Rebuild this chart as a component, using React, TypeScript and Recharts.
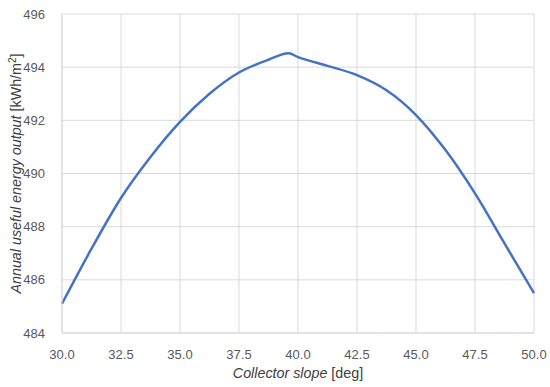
import React from "react";
import { LineChart, Line, XAxis, YAxis, CartesianGrid } from "recharts";

const slopes = [30, 31.25, 32.5, 33.75, 35, 36.25, 37.5, 38.75, 39.6, 40, 41.25, 42.5, 43.75, 45, 46.25, 47.5, 48.75, 50];
const outputs = [485.1, 487.17, 489.08, 490.62, 491.94, 493.0, 493.8, 494.28, 494.52, 494.38, 494.05, 493.7, 493.13, 492.2, 490.88, 489.25, 487.37, 485.5];
const xTicks = [30, 32.5, 35, 37.5, 40, 42.5, 45, 47.5, 50];
const yTicks = [484, 486, 488, 490, 492, 494, 496];

const data = slopes.map((s, i) => ({ slope: s, value: outputs[i] }));

const FONT = "'Liberation Sans', Arial, sans-serif";

const XTitle = (props: any) => {
  const vb = props.viewBox || {};
  const cx = vb.x + vb.width / 2;
  const y = vb.y + 45;
  return (
    <text x={cx} y={y} textAnchor="middle" fill="#404040" fontSize={14.3} fontFamily={FONT}>
      <tspan fontStyle="italic">Collector slope</tspan>
      <tspan> [deg]</tspan>
    </text>
  );
};

const YTitle = (props: any) => {
  const vb = props.viewBox || {};
  const x = 21;
  const cy = vb.y + vb.height / 2;
  return (
    <text x={x} y={cy} textAnchor="middle" fill="#404040" fontSize={14.3} fontFamily={FONT} transform={`rotate(-90 ${x} ${cy})`}>
      <tspan fontStyle="italic">Annual useful energy output</tspan>
      <tspan> [kWh/m</tspan>
      <tspan fontSize={10} dy={-5}>2</tspan>
      <tspan dy={5}>]</tspan>
    </text>
  );
};

export default function App() {
  return (
    <div style={{ position: "absolute", left: 0, top: 0, width: 550, height: 387, background: "#fff" }}>
      <LineChart width={550} height={387} data={data} margin={{ top: 14, right: 16, bottom: 0, left: 0 }}>
        <CartesianGrid stroke="#d9d9d9" strokeWidth={1} />
        <XAxis
          dataKey="slope"
          type="number"
          domain={[30, 50]}
          ticks={xTicks}
          tickFormatter={(v: number) => v.toFixed(1)}
          height={54}
          axisLine={{ stroke: "#d9d9d9" }}
          tickLine={false}
          tickMargin={11}
          tick={{ fill: "#595959", fontSize: 13, fontFamily: FONT }}
          label={<XTitle />}
        />
        <YAxis
          type="number"
          domain={[484, 496]}
          ticks={yTicks}
          width={62}
          axisLine={{ stroke: "#d9d9d9" }}
          tickLine={false}
          tickMargin={11}
          tick={{ fill: "#595959", fontSize: 13, fontFamily: FONT }}
          label={<YTitle />}
        />
        <Line
          type="monotone"
          dataKey="value"
          stroke="#4472C4"
          strokeWidth={2.5}
          dot={false}
          isAnimationActive={false}
        />
      </LineChart>
    </div>
  );
}
